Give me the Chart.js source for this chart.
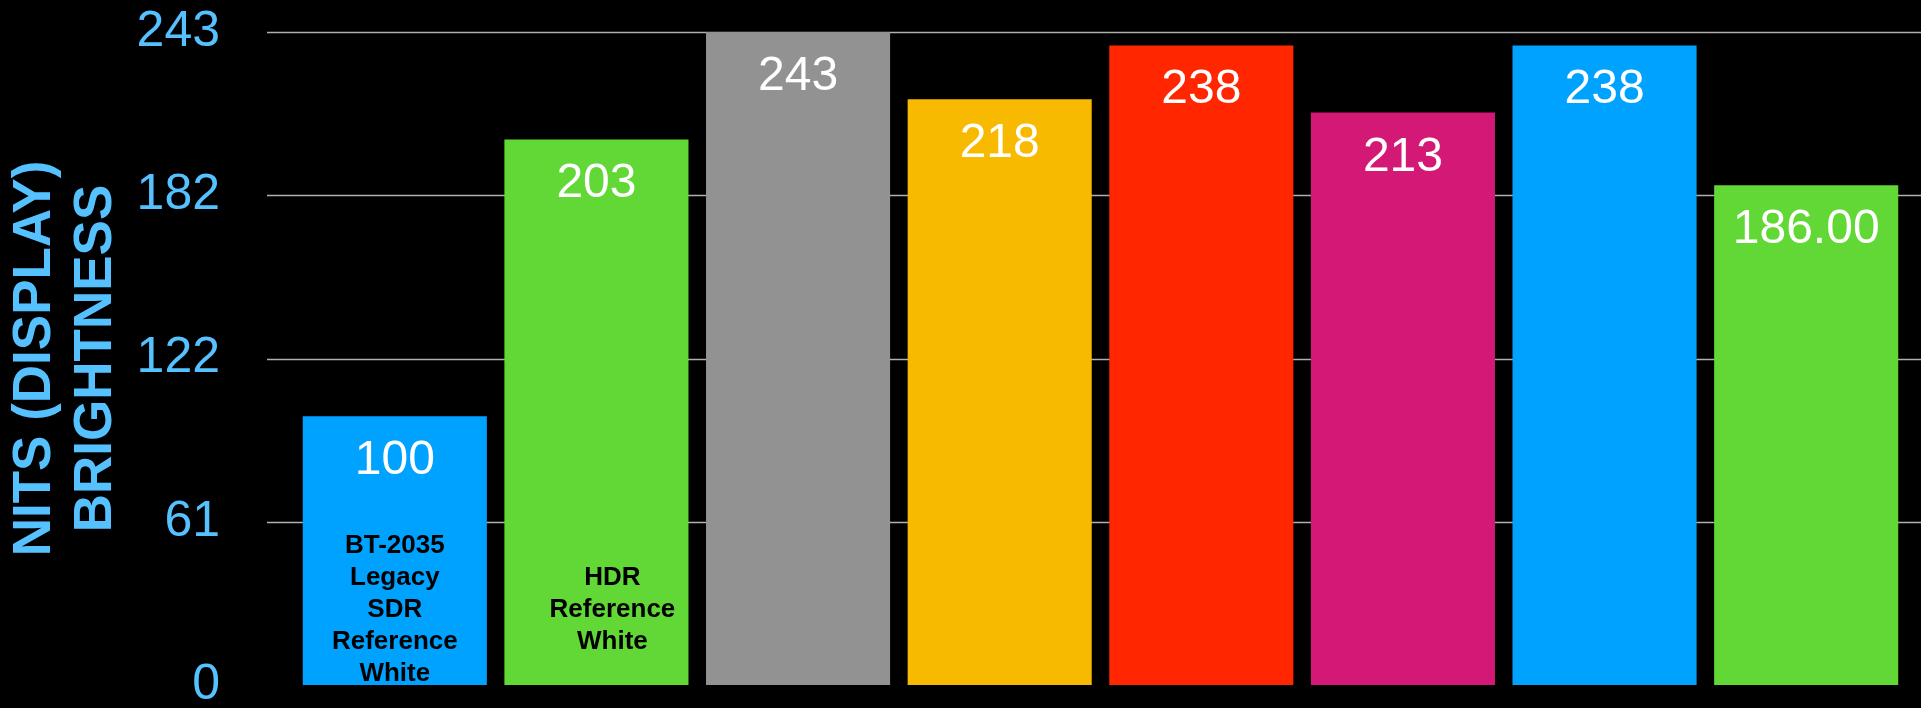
<!DOCTYPE html>
<html>
<head>
<meta charset="utf-8">
<script src="https://cdn.jsdelivr.net/npm/chart.js@4"></script>
<style>
  html, body { margin: 0; padding: 0; background: #000; overflow: hidden; }
  canvas { display: block; }
</style>
</head>
<body>
<canvas id="nitsChart" width="1921" height="708"></canvas>
<script>
// chart data
const categories = [
    ['BT-2035', 'Legacy', 'SDR', 'Reference', 'White'],
    ['HDR', 'Reference', 'White'],
    [], [], [], [], [], []
];
const nits = [100, 203, 243, 218, 238, 213, 238, 186];
const valueLabels = ['100', '203', '243', '218', '238', '213', '238', '186.00'];
const tickValues = [0, 60.75, 121.5, 182.25, 243];
const tickLabels = ['0', '61', '122', '182', '243'];
const barColors = ['#00A2FF', '#61D836', '#929292', '#F8BA00', '#FF2600', '#D41876', '#00A2FF', '#61D836'];

const FONT = "'Liberation Sans', Arial, sans-serif";
const SKY = '#56C1FF';

document.addEventListener('DOMContentLoaded', function () {
    const ctx = document.getElementById('nitsChart').getContext('2d');

    // gridlines run wider than the bars, so draw them ourselves (no line at zero)
    const wideGrid = {
        id: 'wideGrid',
        beforeDatasetsDraw(chart, args, opts) {
            const {ctx, scales: {y}} = chart;
            ctx.save();
            ctx.strokeStyle = opts.color;
            ctx.lineWidth = opts.width;
            tickValues.forEach(v => {
                if (v === 0) return;
                const py = Math.round(y.getPixelForValue(v)) + 0.5;
                ctx.beginPath();
                ctx.moveTo(opts.left, py);
                ctx.lineTo(chart.width, py);
                ctx.stroke();
            });
            ctx.restore();
        }
    };

    const barText = {
        id: 'barText',
        afterDatasetsDraw(chart, args, opts) {
            const {ctx, scales: {x, y}} = chart;
            const meta = chart.getDatasetMeta(0);
            ctx.save();
            ctx.textAlign = 'center';
            meta.data.forEach((bar, i) => {
                // value near the top of the bar
                ctx.fillStyle = '#fff';
                ctx.font = '48px ' + FONT;
                ctx.textBaseline = 'alphabetic';
                ctx.fillText(valueLabels[i], bar.x, bar.y + 58);

                // category name inside the lower part of the bar
                const lines = categories[i];
                if (!lines.length) return;
                ctx.fillStyle = '#000';
                ctx.font = 'bold 26px ' + FONT;
                ctx.textBaseline = 'middle';
                const cx = x.getPixelForValue(i) + (opts.shift[i] || 0);
                const top = opts.centerY - (lines.length - 1) * opts.lineH / 2;
                lines.forEach((t, k) => ctx.fillText(t, cx, top + k * opts.lineH));
            });
            ctx.restore();
        }
    };

    new Chart(ctx, {
        type: 'bar',
        data: {
            labels: categories.map((c, i) => c.join(' ') || 'bar ' + (i + 1)),
            datasets: [{
                data: nits,
                backgroundColor: barColors,
                borderWidth: 0,
                barPercentage: 0.913,
                categoryPercentage: 1
            }]
        },
        options: {
            responsive: false,
            animation: false,
            layout: { padding: { left: 0, right: 14, top: 32, bottom: 23 } },
            plugins: {
                legend: { display: false },
                tooltip: { enabled: false },
                wideGrid: { left: 267, color: '#b0b0b0', width: 1.5 },
                barText: { centerY: 610, lineH: 32, shift: [0, 16] }
            },
            scales: {
                x: { display: false },
                y: {
                    min: 0,
                    max: 243,
                    border: { display: false },
                    grid: { display: false, drawTicks: false },
                    afterBuildTicks(scale) {
                        scale.ticks = tickValues.map(v => ({ value: v }));
                    },
                    afterFit(scale) {
                        // the wide tick padding should not shrink the plot vertically
                        scale.width = 294;
                        scale.paddingTop = 0;
                        scale.paddingBottom = 0;
                    },
                    ticks: {
                        color: SKY,
                        padding: 74,
                        font: { family: FONT, size: 50 },
                        callback: (v, i) => tickLabels[i]
                    },
                    title: {
                        display: true,
                        text: ['NITS (DISPLAY)', 'BRIGHTNESS'],
                        color: SKY,
                        padding: { top: 5, bottom: 0 },
                        font: { family: FONT, size: 53, weight: 'bold', lineHeight: 1.15 }
                    }
                }
            }
        },
        plugins: [wideGrid, barText]
    });
});
</script>
</body>
</html>
